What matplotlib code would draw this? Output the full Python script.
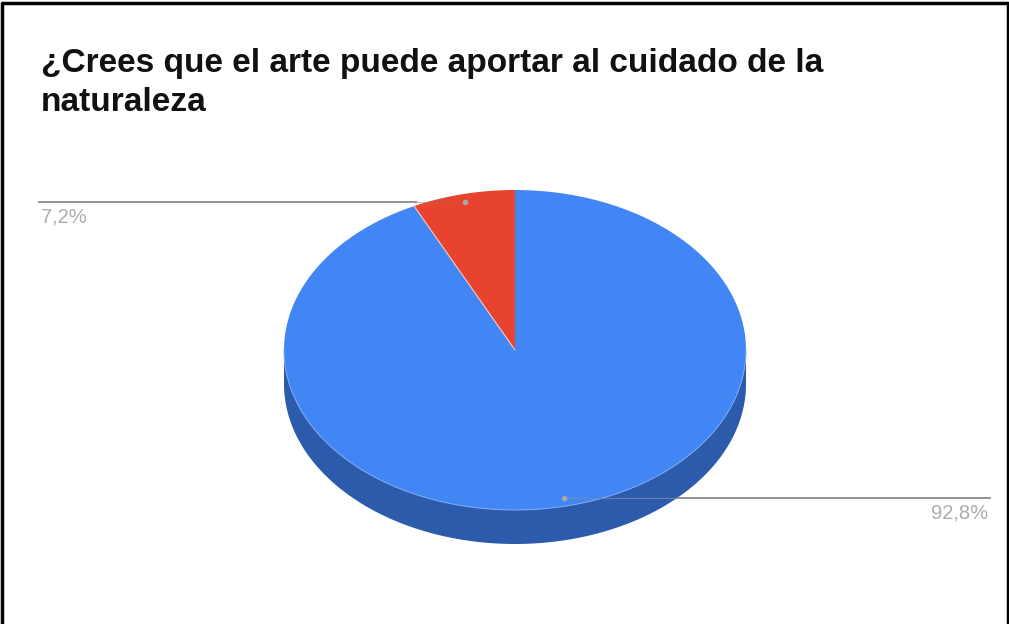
import numpy as np
import matplotlib.pyplot as plt
from matplotlib.patches import Polygon

title_lines = ["¿Crees que el arte puede aportar al cuidado de la", "naturaleza"]
labels = ["92,8%", "7,2%"]
values = [92.8, 7.2]
colors = ["#4285f4", "#e8432f"]
side_color = "#2d5bac"

W, H = 1009, 624
fig = plt.figure(figsize=(W / 100, H / 100), dpi=100)
ax = fig.add_axes([0, 0, 1, 1])
ax.set_xlim(0, W)
ax.set_ylim(H, 0)
ax.axis("off")

# black frame, open at the bottom
ax.plot([1.5, 1.5, W - 1.5, W - 1.5], [H, 2.5, 2.5, H], color="black", lw=2.5)

ax.text(41, 72, title_lines[0], fontsize=24.1, fontweight="bold", family="Liberation Sans",
        va="baseline", color="#111111")
ax.text(41, 111, title_lines[1], fontsize=24.1, fontweight="bold", family="Liberation Sans",
        va="baseline", color="#111111")

cx, cy, rx, ry, depth = 515, 350, 231, 160, 34


def arc(a0, a1, n=200):
    # angles in percent of the pie, clockwise from the top
    t = np.radians(np.linspace(a0, a1, n) * 3.6)
    return cx + rx * np.sin(t), cy - ry * np.cos(t)


# side wall of the pie
t = np.linspace(0, np.pi, 200)
xs = cx + rx * np.cos(t)
ys = cy + ry * np.sin(t)
ax.add_patch(Polygon(np.r_[np.c_[xs, ys + depth], np.c_[xs[::-1], ys[::-1]]], color=side_color, lw=0))

# slices, drawn from the values
start = 0
for v, c in zip(values, colors):
    x, y = arc(start, start + v)
    ax.add_patch(Polygon(np.r_[[[cx, cy]], np.c_[x, y]], facecolor=c, edgecolor="none"))
    start += v

# light hairlines: slice border and rim of the top face
xe, ye = arc(values[0], values[0], 1)
ax.plot([cx, xe[0]], [cy, ye[0]], color="#f3c9c4", lw=0.8)
ax.plot(xs, ys, color="#7fa8f5", lw=0.7)

# leader lines, faint where they cross the pie
ax.plot([39, 416], [202, 202], color="#808080", lw=1.2)
ax.plot([416, 465], [202, 202], color="#a0705f", lw=0.8, alpha=0.5)
ax.plot([677, 990], [497.5, 497.5], color="#808080", lw=1.2)
ax.plot([564, 677], [497.5, 497.5], color="#7f8fa8", lw=0.8, alpha=0.7)
ax.plot([465, 564], [202, 497.5], "o", color="#a9a9a9", ms=4, mew=0)

ax.text(41, 217, labels[1], fontsize=14.5, family="Liberation Sans", color="#adadad", va="center")
ax.text(988, 513, labels[0], fontsize=14.5, family="Liberation Sans", color="#adadad", va="center", ha="right")

fig.savefig("out.png", dpi=100)
